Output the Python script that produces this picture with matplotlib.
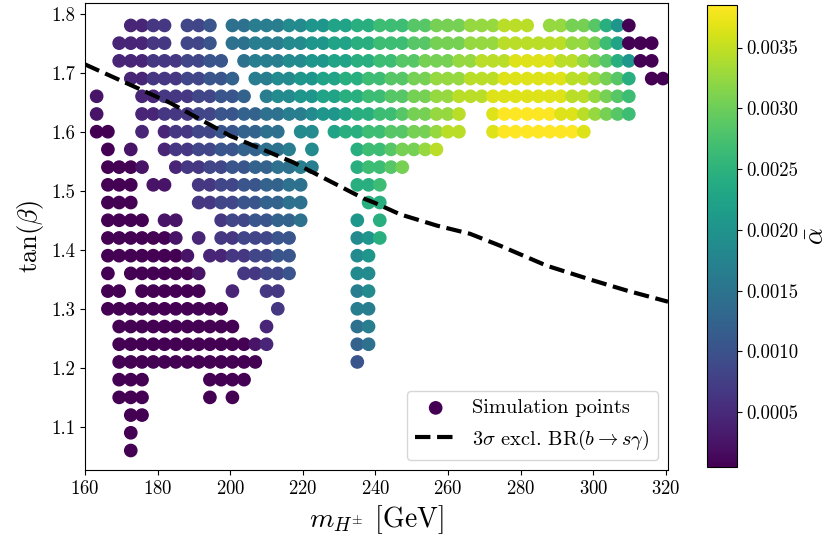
import matplotlib
matplotlib.use("Agg")
import matplotlib.pyplot as plt
from matplotlib.ticker import MultipleLocator, FormatStrFormatter
import numpy as np

plt.rcParams['font.family'] = 'serif'
plt.rcParams['font.serif'] = ['cmr10']
plt.rcParams['mathtext.fontset'] = 'cm'
plt.rcParams['axes.formatter.use_mathtext'] = True
plt.rcParams['axes.unicode_minus'] = False

# ---- data ----
mass_grid = [163.2, 166.3, 169.4, 172.6, 175.7, 178.8, 181.9, 185.0, 188.2, 191.3,
             194.4, 197.5, 200.6, 203.8, 206.9, 210.0, 213.1, 216.2, 219.4, 222.5,
             225.6, 228.7, 231.8, 235.0, 238.1, 241.2, 244.3, 247.4, 250.6, 253.7,
             256.8, 259.9, 263.0, 266.2, 269.3, 272.4, 275.5, 278.6, 281.8, 284.9,
             288.0, 291.1, 294.2, 297.4, 300.5, 303.6, 306.7, 309.8, 313.0, 316.1,
             319.2]

tanb_levels = [1.78, 1.75, 1.72, 1.69, 1.66, 1.63, 1.60, 1.57, 1.54, 1.51,
               1.48, 1.45, 1.42, 1.39, 1.36, 1.33, 1.30, 1.27, 1.24, 1.21,
               1.18, 1.15, 1.12, 1.09, 1.06]

# colour value (alpha-bar) per grid point:
# '.' = no point, '0'..'j' = level 0..19 (0.00005 + 0.0002 * level)
alpha_code_rows = [
    "...2233.445.7788899aabbccdddeefffggghhh.ggffeca0...",
    "..22233.445.7788899aabbccdddeefffggghhhhhhggfdb000.",
    "..2223334455.788899aabbccddeefffgghhhiiiihhgfeca00.",
    "...2233344556.8899aabbccddeeffggghhhiiiiiihhgfec.00",
    "1...2233344556.899aabbccddeeffgghhhiiiiiiihhgfed...",
    "1...2233344556677889aabccddeffggh..ijjjjjiihgfed...",
    "00..2.23344556677.99.bccddeeffghh..ijjjjjjji.......",
    ".0.1..233445566778.9...cddeffgh....................",
    ".0001..2334455667788...cddef.......................",
    ".000.11..3344556677....ccd.........................",
    ".000.....3344556677.....cc.........................",
    ".0000.11...34455667....a.c.........................",
    ".0000001.2.3344455.....9ac.........................",
    ".00000001.22334455.....9a..........................",
    ".0.0000001...33445.....99..........................",
    ".00.000000..2..33......89..........................",
    ".00000000000....3......88..........................",
    "..00000000000..2.......78..........................",
    "..00000000000012.......67..........................",
    "..0000000000000........5...........................",
    "..000.....0000.....................................",
    "..000.....0.0......................................",
    "...00..............................................",
    "...0...............................................",
    "...0...............................................",
]
code_chars = "0123456789abcdefghij"
alpha_base, alpha_step = 0.00005, 0.0002

# 3 sigma exclusion from BR(b -> s gamma)
excl_mass = [160.0, 183.4, 200.0, 217.4, 236.7, 240.0, 246.8, 256.9, 266.1,
             274.3, 287.2, 300.0, 309.2, 320.6]
excl_tanb = [1.714, 1.649, 1.593, 1.548, 1.487, 1.479, 1.460, 1.441, 1.427,
             1.407, 1.373, 1.348, 1.331, 1.312]

# ---- build point lists (bottom rows first) ----
xs, ys, cs = [], [], []
for tb, row in zip(reversed(tanb_levels), reversed(alpha_code_rows)):
    for m, ch in zip(mass_grid, row):
        if ch == '.':
            continue
        xs.append(m)
        ys.append(tb)
        cs.append(alpha_base + alpha_step * code_chars.index(ch))

fig = plt.figure(figsize=(8.28, 5.47), dpi=100)
ax = fig.add_axes([0.1027, 0.1408, 0.7041, 0.8537])
cax = fig.add_axes([0.8539, 0.1463, 0.0362, 0.8446])

sc = ax.scatter(xs, ys, c=cs, cmap='viridis', s=78, label='Simulation points')
ax.plot(excl_mass, excl_tanb, 'k--', lw=3,
        label=r'$3\sigma$ excl. BR$(b\rightarrow s\gamma)$')

ax.set_xlim(160, 320.6)
ax.set_ylim(1.027, 1.818)
ax.xaxis.set_major_locator(MultipleLocator(20))
ax.yaxis.set_major_locator(MultipleLocator(0.1))
ax.yaxis.set_major_formatter(FormatStrFormatter('%.1f'))
ax.tick_params(labelsize=13.5)
ax.set_xlabel(r'$m_{H^{\pm}}$ [GeV]', fontsize=20)
ax.set_ylabel(r'$\tan(\beta)$', fontsize=19)

leg = ax.legend(loc='lower right', fontsize=14.7)

cb = fig.colorbar(sc, cax=cax)
cb.locator = MultipleLocator(0.0005)
cb.formatter = FormatStrFormatter('%.4f')
cb.update_ticks()
cb.ax.tick_params(labelsize=13.5)
cb.set_label(r'$\bar{\alpha}$', fontsize=19)

fig.savefig('out.png', dpi=100)
